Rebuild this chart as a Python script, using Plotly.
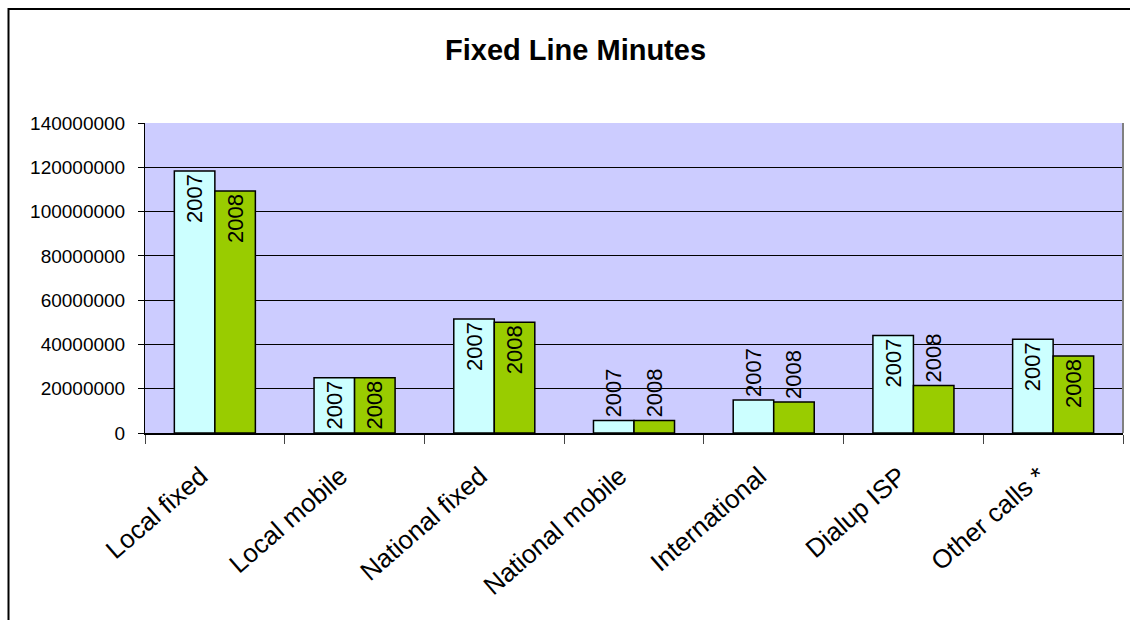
import plotly.graph_objects as go

# Call categories and minutes per year
categories = ["Local fixed", "Local mobile", "National fixed", "National mobile",
              "International", "Dialup ISP", "Other calls *"]
minutes_2007 = [118300000, 25000000, 51500000, 5700000, 14900000, 44000000, 42300000]
minutes_2008 = [109300000, 25000000, 50000000, 5700000, 14000000, 21500000, 34800000]

# where each year label sits relative to its bar
label_pos_2007 = ["inside", "inside", "inside", "outside", "outside", "inside", "inside"]
label_pos_2008 = ["inside", "inside", "inside", "outside", "outside", "outside", "inside"]

FONT = "Arial, 'Liberation Sans', sans-serif"
LABEL_SIZE = 22

fig = go.Figure()
for name, vals, pos, color in [
    ("2007", minutes_2007, label_pos_2007, "#CCFFFF"),
    ("2008", minutes_2008, label_pos_2008, "#99CC00"),
]:
    fig.add_trace(go.Bar(
        x=categories, y=vals, name=name,
        text=[name] * len(vals), textposition=pos, textangle=-90,
        insidetextanchor="end", constraintext="none",
        textfont=dict(family=FONT, size=LABEL_SIZE, color="black"),
        insidetextfont=dict(family=FONT, size=LABEL_SIZE, color="black"),
        outsidetextfont=dict(family=FONT, size=LABEL_SIZE, color="black"),
        marker=dict(color=color, line=dict(color="black", width=1.5)),
        cliponaxis=False,
    ))

fig.update_layout(
    width=1130, height=620,
    margin=dict(l=145, r=7, t=123, b=187),
    paper_bgcolor="white", plot_bgcolor="#CCCCFF",
    barmode="group", bargap=0.42, bargroupgap=0,
    showlegend=False,
    font=dict(family=FONT, color="black"),
)

fig.update_yaxes(
    range=[0, 140000000], dtick=20000000, tickformat="d",
    showgrid=True, gridcolor="black", gridwidth=1,
    showline=True, linecolor="black", linewidth=1,
    ticks="outside", ticklen=6, tickcolor="black",
    tickfont=dict(family=FONT, size=19, color="black"),
    ticklabelstandoff=9,
    zeroline=False,
)
fig.update_xaxes(
    showline=True, linecolor="black", linewidth=1.5,
    ticks="outside", tickson="boundaries", ticklen=9, tickcolor="#444444",
    tickangle=-41,
    tickfont=dict(family=FONT, size=26, color="black"),
    ticklabelstandoff=16, ticklabelshift=-14,
)

# chart title, centred above the plot area
fig.add_annotation(
    text="<b>Fixed Line Minutes</b>", xref="paper", yref="paper",
    x=(575 - 145) / 978, y=(433 - 50) / 310, xanchor="center", yanchor="middle",
    showarrow=False, font=dict(family=FONT, size=29, color="black"),
)

# right edge of the plot area
fig.add_shape(type="line", xref="paper", yref="paper", x0=1, x1=1, y0=0, y1=1,
              line=dict(color="#808080", width=2))
# outer chart frame
fig.add_shape(type="rect", xref="paper", yref="paper",
              x0=(8.5 - 145) / 978, x1=(1140 - 145) / 978,
              y0=(433 - 630) / 310, y1=(433 - 9) / 310,
              line=dict(color="black", width=2))

fig.write_html("out.html")
